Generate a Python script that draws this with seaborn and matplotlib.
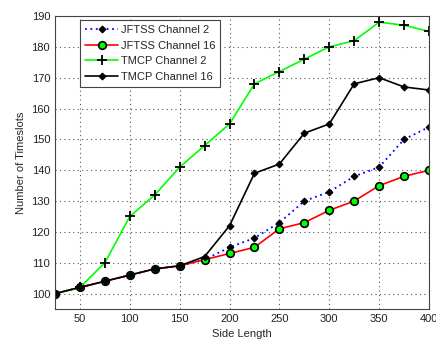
import pandas as pd
import seaborn as sns
import matplotlib.pyplot as plt

side = [25, 50, 75, 100, 125, 150, 175, 200, 225, 250, 275, 300, 325, 350, 375, 400]
jftss_ch2 = [100, 102, 104, 106, 108, 109, 111, 115, 118, 123, 130, 133, 138, 141, 150, 154]
jftss_ch16 = [100, 102, 104, 106, 108, 109, 111, 113, 115, 121, 123, 127, 130, 135, 138, 140]
tmcp_ch2 = [100, 102, 110, 125, 132, 141, 148, 155, 168, 172, 176, 180, 182, 188, 187, 185]
tmcp_ch16 = [100, 102, 104, 106, 108, 109, 112, 122, 139, 142, 152, 155, 168, 170, 167, 166]

sns.set_style('white')
plt.rcParams['font.family'] = ['Liberation Sans', 'DejaVu Sans']

fig = plt.figure(figsize=(4.36, 3.42), dpi=100)
ax = fig.add_axes([55 / 436, 1 - 309 / 342, 374 / 436, 293 / 342])

sns.lineplot(x=side, y=jftss_ch2, ax=ax, color='blue', linestyle=(0, (1, 2)), linewidth=1.3,
             marker='D', markersize=3.5, markerfacecolor='black', markeredgecolor='black',
             label='JFTSS Channel 2')
sns.lineplot(x=side, y=jftss_ch16, ax=ax, color='red', linewidth=1.2,
             marker='o', markersize=5.5, markerfacecolor='#00ff00', markeredgecolor='black',
             markeredgewidth=1.2, label='JFTSS Channel 16')
sns.lineplot(x=side, y=tmcp_ch2, ax=ax, color='#00ff00', linewidth=1.2,
             marker='+', markersize=7, markeredgecolor='black', markeredgewidth=1.3,
             label='TMCP Channel 2')
sns.lineplot(x=side, y=tmcp_ch16, ax=ax, color='black', linewidth=1.2,
             marker='D', markersize=3.5, markerfacecolor='black', markeredgecolor='black',
             label='TMCP Channel 16')

ax.set_xlim(25, 400)
ax.set_ylim(95, 190)
ax.set_xticks(range(50, 401, 50))
ax.set_yticks(range(100, 191, 10))
ax.grid(True, color='#555555', linestyle=(0, (1, 3)), linewidth=0.8)
ax.tick_params(direction='in', length=3, labelsize=8, colors='#222222')
for s in ax.spines.values():
    s.set_color('#444444')
    s.set_linewidth(0.8)
ax.set_xlabel('Side Length', fontsize=8)
ax.set_ylabel('Number of Timeslots', fontsize=8)

leg = ax.legend(loc='upper left', bbox_to_anchor=(0.067, 0.986), borderaxespad=0,
                fontsize=8, frameon=True, fancybox=False, edgecolor='#444444', framealpha=1,
                borderpad=0.45, labelspacing=0.5, handlelength=3.0, handletextpad=0.2)
leg.get_frame().set_linewidth(0.8)

fig.savefig('out.png', dpi=100, facecolor='white')
